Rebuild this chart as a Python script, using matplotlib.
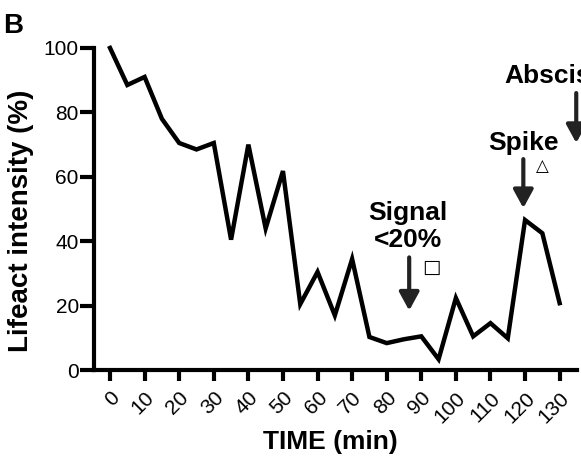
import matplotlib
matplotlib.use("Agg")
import matplotlib.pyplot as plt

plt.rcParams['font.family'] = ['Liberation Sans', 'DejaVu Sans']

# lifeact intensity sampled every 5 min
time_min = [0, 5, 10, 15, 20, 25, 30, 35, 40, 45, 50, 55, 60, 65, 70,
            75, 80, 85, 90, 95, 100, 105, 110, 115, 120, 125, 130]
intensity = [100, 88.5, 91, 78, 70.5, 68.5, 70.5, 40.5, 70, 44, 61.8, 20.5, 30.5, 17, 34.5,
             10.3, 8.4, 9.6, 10.5, 3.4, 22.4, 10.5, 14.6, 9.9, 46.6, 42.5, 20.8]
x_ticks = list(range(0, 131, 10))
y_ticks = [0, 20, 40, 60, 80, 100]

fig = plt.figure(figsize=(5.81, 4.61), dpi=100)
ax = fig.add_axes([0.162, 0.197, 0.831, 0.699])

ax.plot(time_min, intensity, color='black', lw=3.2, solid_joinstyle='miter', clip_on=False)

ax.set_xlim(-4.6, 135)
ax.set_ylim(0, 100)
ax.set_xticks(x_ticks)
ax.set_yticks(y_ticks)
ax.set_xticklabels([str(t) for t in x_ticks], rotation=45, ha='right',
                   rotation_mode='anchor', fontsize=15)
ax.tick_params(axis='y', labelsize=15, length=10, width=3, pad=1)
ax.tick_params(axis='x', length=8, width=3, pad=5)
for s in ['top', 'right']:
    ax.spines[s].set_visible(False)
for s in ['left', 'bottom']:
    ax.spines[s].set_linewidth(3)

ax.set_xlabel('TIME (min)', fontsize=19, fontweight='bold', va='center')
ax.xaxis.set_label_coords(0.489, -0.224)
ax.set_ylabel('Lifeact intensity (%)', fontsize=20, fontweight='bold', va='center')
ax.yaxis.set_label_coords(-0.151, 0.463)

arrow = dict(arrowstyle='-|>,head_width=0.3,head_length=0.55', lw=3,
             color='#222222', mutation_scale=20, shrinkA=0, shrinkB=0)

# signal < 20%
ax.text(86.2, 44.7, 'Signal\n<20%', ha='center', va='center', fontsize=19,
        fontweight='bold', linespacing=1.15)
ax.annotate('', xy=(86.5, 18.5), xytext=(86.5, 35), arrowprops=arrow)
ax.text(93, 32, '\u25a1', family='DejaVu Sans', fontsize=14, ha='center', va='center')

# spike
ax.text(119.5, 70.5, 'Spike', ha='center', va='center', fontsize=19, fontweight='bold')
ax.annotate('', xy=(119.5, 50.3), xytext=(119.5, 65.5), arrowprops=arrow, annotation_clip=False)
ax.text(125, 63.5, '\u25b3', family='DejaVu Sans', fontsize=12, ha='center', va='center')

# abscission (cut off at figure edge)
ax.text(113.9, 91.3, 'Abscission', ha='left', va='center', fontsize=19,
        fontweight='bold', clip_on=False)
ax.annotate('', xy=(134.8, 70.5), xytext=(134.8, 86), arrowprops=arrow, annotation_clip=False)

fig.text(0.005, 0.928, 'B', fontsize=20, fontweight='bold', va='baseline')

fig.savefig('out.png', dpi=100)
